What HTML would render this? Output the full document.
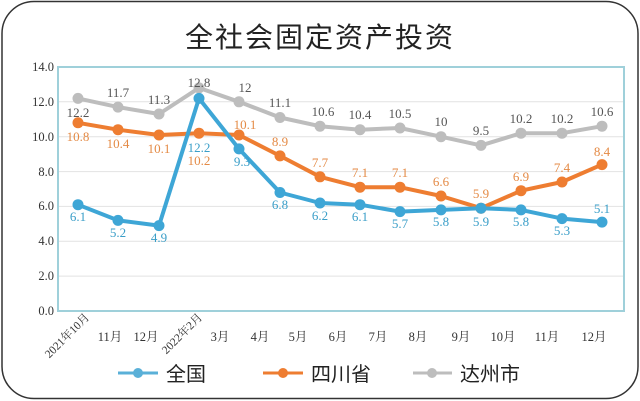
<!DOCTYPE html>
<html><head><meta charset="utf-8"><style>
html,body{margin:0;padding:0;background:#fff;}
svg{display:block;}
.s{font-family:"Liberation Serif","Noto Serif CJK SC",serif;}
.h{font-family:"Liberation Sans","Noto Sans CJK SC",sans-serif;}
</style></head><body>
<svg width="640" height="401" viewBox="0 0 640 401">
<rect x="2" y="1.5" width="636" height="397" rx="32" fill="#fff" stroke="#333" stroke-width="1.5"/>
<text x="320" y="47" text-anchor="middle" class="h" font-size="28" fill="#222" letter-spacing="2">全社会固定资产投资</text>
<g stroke="#e2e2e2" stroke-width="1">
<line x1="58" x2="624" y1="276.1" y2="276.1"/><line x1="58" x2="624" y1="241.3" y2="241.3"/>
<line x1="58" x2="624" y1="206.4" y2="206.4"/><line x1="58" x2="624" y1="171.6" y2="171.6"/>
<line x1="58" x2="624" y1="136.7" y2="136.7"/><line x1="58" x2="624" y1="101.8" y2="101.8"/>
</g>
<rect x="58" y="67" width="566" height="244" fill="none" stroke="#9fd0da" stroke-width="2"/>
<g class="s" font-size="12.5" fill="#333" text-anchor="end">
<text x="54" y="71">14.0</text><text x="54" y="106">12.0</text><text x="54" y="141">10.0</text>
<text x="54" y="176">8.0</text><text x="54" y="210">6.0</text><text x="54" y="245">4.0</text>
<text x="54" y="280">2.0</text><text x="54" y="315">0.0</text>
</g>
<g class="s" font-size="12.5" fill="#333" text-anchor="middle">
<text x="110" y="341">11月</text><text x="146" y="341">12月</text><text x="220" y="341">3月</text>
<text x="260" y="341">4月</text><text x="298" y="341">5月</text><text x="338" y="341">6月</text>
<text x="378" y="341">7月</text><text x="418" y="341">8月</text><text x="461" y="341">9月</text>
<text x="503" y="341">10月</text><text x="547" y="341">11月</text><text x="594" y="341">12月</text>
<text transform="translate(90,318) rotate(-45)" text-anchor="end" font-size="11.5">2021年10月</text>
<text transform="translate(203,318) rotate(-45)" text-anchor="end" font-size="11.5">2022年2月</text>
</g>
<g fill="none" stroke-width="4" stroke-linejoin="round">
<polyline stroke="#bdbdbd" points="78,98.4 118,107.1 159,114 199,87.9 239,101.8 280,117.5 320,126.2 360,129.7 400,128 441,136.7 481,145.4 521,133.2 562,133.2 602,126.2"/>
<polyline stroke="#ee7d31" points="78,122.8 118,129.7 159,135 199,133.2 239,135 280,155.9 320,176.8 360,187.2 400,187.2 441,196 481,208.2 521,190.7 562,182 602,164.6"/>
<polyline stroke="#3ea6d6" points="78,204.7 118,220.4 159,225.6 199,98.4 239,148.9 280,192.5 320,203 360,204.7 400,211.6 441,209.9 481,208.2 521,209.9 562,218.6 602,222.1"/>
</g>
<g fill="#bdbdbd">
<circle cx="78" cy="98.4" r="5.5"/><circle cx="118" cy="107.1" r="5.5"/><circle cx="159" cy="114" r="5.5"/><circle cx="199" cy="87.9" r="5.5"/><circle cx="239" cy="101.8" r="5.5"/><circle cx="280" cy="117.5" r="5.5"/><circle cx="320" cy="126.2" r="5.5"/><circle cx="360" cy="129.7" r="5.5"/><circle cx="400" cy="128" r="5.5"/><circle cx="441" cy="136.7" r="5.5"/><circle cx="481" cy="145.4" r="5.5"/><circle cx="521" cy="133.2" r="5.5"/><circle cx="562" cy="133.2" r="5.5"/><circle cx="602" cy="126.2" r="5.5"/>
</g>
<g fill="#ee7d31">
<circle cx="78" cy="122.8" r="5.5"/><circle cx="118" cy="129.7" r="5.5"/><circle cx="159" cy="135" r="5.5"/><circle cx="199" cy="133.2" r="5.5"/><circle cx="239" cy="135" r="5.5"/><circle cx="280" cy="155.9" r="5.5"/><circle cx="320" cy="176.8" r="5.5"/><circle cx="360" cy="187.2" r="5.5"/><circle cx="400" cy="187.2" r="5.5"/><circle cx="441" cy="196" r="5.5"/><circle cx="481" cy="208.2" r="5.5"/><circle cx="521" cy="190.7" r="5.5"/><circle cx="562" cy="182" r="5.5"/><circle cx="602" cy="164.6" r="5.5"/>
</g>
<g fill="#3ea6d6">
<circle cx="78" cy="204.7" r="5.5"/><circle cx="118" cy="220.4" r="5.5"/><circle cx="159" cy="225.6" r="5.5"/><circle cx="199" cy="98.4" r="5.5"/><circle cx="239" cy="148.9" r="5.5"/><circle cx="280" cy="192.5" r="5.5"/><circle cx="320" cy="203" r="5.5"/><circle cx="360" cy="204.7" r="5.5"/><circle cx="400" cy="211.6" r="5.5"/><circle cx="441" cy="209.9" r="5.5"/><circle cx="481" cy="208.2" r="5.5"/><circle cx="521" cy="209.9" r="5.5"/><circle cx="562" cy="218.6" r="5.5"/><circle cx="602" cy="222.1" r="5.5"/>
</g>
<g class="s" font-size="13" fill="#555" text-anchor="middle">
<text x="78" y="117">12.2</text><text x="118" y="97">11.7</text><text x="159" y="104">11.3</text><text x="199" y="87">12.8</text><text x="245" y="92">12</text><text x="280" y="107">11.1</text><text x="323" y="116">10.6</text><text x="360" y="119">10.4</text><text x="400" y="118">10.5</text><text x="441" y="126">10</text><text x="481" y="135">9.5</text><text x="521" y="123">10.2</text><text x="562" y="123">10.2</text><text x="602" y="116">10.6</text>
</g>
<g class="s" font-size="13" fill="#e48a45" text-anchor="middle">
<text x="78" y="141">10.8</text><text x="118" y="148">10.4</text><text x="159" y="153">10.1</text><text x="199" y="165">10.2</text><text x="245" y="129">10.1</text><text x="280" y="146">8.9</text><text x="320" y="167">7.7</text><text x="360" y="177">7.1</text><text x="400" y="177">7.1</text><text x="441" y="186">6.6</text><text x="481" y="198">5.9</text><text x="521" y="181">6.9</text><text x="562" y="172">7.4</text><text x="602" y="156">8.4</text>
</g>
<g class="s" font-size="13" fill="#3a9ec8" text-anchor="middle">
<text x="78" y="221">6.1</text><text x="118" y="237">5.2</text><text x="159" y="242">4.9</text><text x="199" y="152">12.2</text><text x="242" y="166">9.3</text><text x="280" y="209">6.8</text><text x="320" y="220">6.2</text><text x="360" y="221">6.1</text><text x="400" y="228">5.7</text><text x="441" y="226">5.8</text><text x="481" y="226">5.9</text><text x="521" y="226">5.8</text><text x="562" y="235">5.3</text><text x="602" y="213">5.1</text>
</g>
<g stroke-width="3">
<line x1="118" x2="158" y1="373" y2="373" stroke="#5ab0d8"/><circle cx="138" cy="373" r="5" fill="#5ab0d8"/>
<line x1="263" x2="303" y1="373" y2="373" stroke="#ee7d31"/><circle cx="283" cy="373" r="5" fill="#ee7d31"/>
<line x1="413" x2="452" y1="373" y2="373" stroke="#bdbdbd"/><circle cx="432" cy="373" r="5" fill="#bdbdbd"/>
</g>
<g class="h" font-size="20" fill="#222">
<text x="166" y="381">全国</text><text x="311" y="381">四川省</text><text x="460" y="381">达州市</text>
</g>
</svg>
</body></html>
